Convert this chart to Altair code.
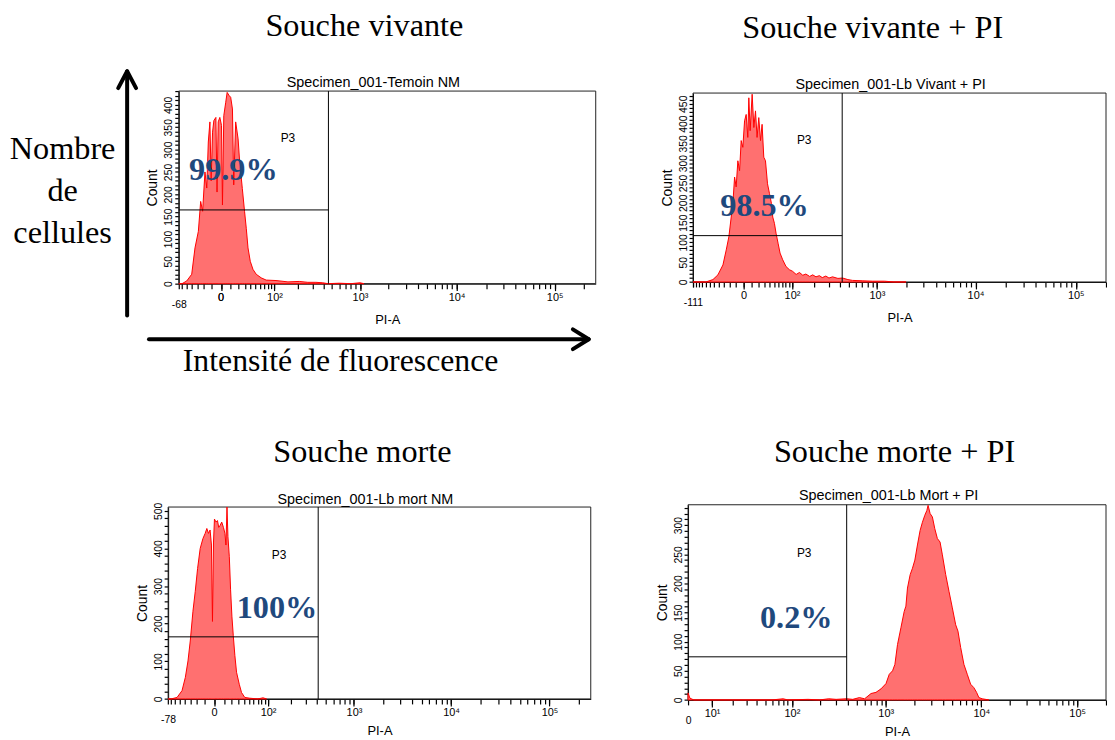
import altair as alt
import pandas as pd

# ---------------- values ----------------
# Panel 1 : Souche vivante  (Specimen_001-Temoin NM)
p1_pi = [-68, -60, -49.6, -39.7, -33.8, -28.2, -24.6, -21.7, -18.4, -16.0,
         -14.0, -12.0, -10.5, -8.9, -7.4, -5.2, -4.0, -2.8, -1.2, 0.4,
         1.3, 2.6, 4.6, 6.1, 8.3, 10.1, 12.2, 13.8, 16.3, 19.6,
         21.8, 25.8, 29.4, 32.2, 35.2, 39.3, 44.5, 51.2, 62.5, 75.1,
         105, 152, 210, 266, 330, 394, 450, 600, 800, 1000, 1100]
p1_count = [0, 0, 6, 21, 80, 117, 184, 162, 250, 214,
            317, 362, 230, 339, 365, 372, 205, 362, 372, 354,
            176, 376, 406, 428, 421, 417, 391, 221, 362, 324,
            273, 213, 161, 124, 80, 50, 32, 21, 13, 8,
            7, 4, 5, 3, 3, 2, 0, 1, 0, 2, 0]

# Panel 2 : Souche vivante + PI  (Specimen_001-Lb Vivant + PI)
p2_pi = [-111, -70, -52, -41, -31.1, -25.2, -20.8, -17.1, -14.6, -12.1,
         -9.9, -7.6, -5.4, -3.4, -1.4, 0.6, 2.5, 4.5, 5.8, 7.5,
         10.2, 12.6, 15.0, 17.4, 20.1, 22.9, 25.6, 28.6, 31.7, 35.6,
         39.6, 43.7, 46.5, 50.3, 54.1, 59.0, 64.1, 71.3, 80.8, 91.4,
         102, 115, 128, 142, 156, 175, 191, 210, 231, 250,
         276, 300, 330, 380, 428, 490, 550, 700, 900, 1200, 1500, 2000]
p2_count = [0, 0, 6, 18, 43, 81, 114, 164, 198, 265,
            240, 306, 281, 357, 340, 407, 423, 365, 465, 382,
            474, 390, 432, 365, 415, 357, 398, 315, 306, 248,
            223, 198, 164, 148, 123, 98, 73, 56, 39, 31,
            27, 19, 24, 17, 20, 14, 18, 13, 16, 11,
            15, 10, 13, 9, 10, 6, 4, 3, 2, 2, 0, 0]

# Panel 3 : Souche morte  (Specimen_001-Lb mort NM)
p3_pi = [-78, -70, -55.8, -45.3, -39.0, -34.2, -30.4, -26.1, -22.7, -19.3,
         -15.8, -12.4, -9.7, -7.8, -6.0, -4.3, -2.9, -1.9, -0.9, 0.0,
         1.5, 2.9, 4.2, 5.6, 7.4, 9.3, 11.1, 12.3, 13.6, 14.8,
         16.6, 18.3, 20.1, 22.1, 24.4, 27.0, 31.4, 35.3, 41.2, 51.2,
         70, 84.4, 95]
p3_count = [0, 0, 4, 22, 57, 101, 154, 233, 285, 347,
            400, 426, 440, 453, 440, 449, 409, 206, 417, 478,
            470, 474, 456, 461, 470, 456, 440, 409, 510, 431,
            378, 290, 220, 168, 116, 71, 39, 17, 4, 2,
            0, 3, 0]

# Panel 4 : Souche morte + PI  (Specimen_001-Lb Mort + PI)
p4_pi = [3.2, 3.6, 4.5, 20, 60, 80, 90, 150, 200, 250,
         300, 388, 450, 528, 600, 701, 790, 892, 1006, 1089,
         1179, 1248, 1329, 1443, 1562, 1627, 1690, 1803, 1906, 2019,
         2149, 2292, 2423, 2567, 2693, 2776, 2915, 3080, 3263, 3473,
         3704, 3915, 4244, 4597, 4976, 5394, 5701, 6081, 6577, 7128,
         7727, 8360, 8916, 9423, 10200, 11970]
p4_count = [12, 3, 0, 0, 0, 2, 0, 1, 0, 2,
            1, 2, 1, 4, 2, 11, 13, 19, 28, 44,
            50, 61, 95, 124, 152, 161, 192, 215, 226, 240,
            266, 291, 305, 317, 325, 334, 320, 314, 294, 277,
            271, 249, 215, 186, 158, 129, 118, 90, 61, 44,
            27, 21, 13, 4, 2, 0]

titles_top = ["Souche vivante", "Souche vivante + PI", "Souche morte", "Souche morte + PI"]
specimens = ["Specimen_001-Temoin NM", "Specimen_001-Lb Vivant + PI",
             "Specimen_001-Lb mort NM", "Specimen_001-Lb Mort + PI"]
percents = ["99.9%", "98.5%", "100%", "0.2%"]
gate_pi = [456, 424, 411, 388]
gate_count = [165, 117, 165, 74]
x_min = [-68, -111, -78, 3.2]
x_max = [262143, 200000, 262143, 200000]
y_max = [431, 477, 510, 335]
first_label = ["-68", "-111", "-78", "0"]
zero_tick = [0]
y_label_step = [50, 50, 100, 50]
y_tick_step = [10, 10, 20, 10]
gate_name = "P3"
left_words = ["Nombre", "de", "cellules"]
bottom_words = "Intensité de fluorescence"

# ---------------- layout / style ----------------
W, H = 1107, 724
SANS = "Liberation Sans"
SERIF = "Liberation Serif"
BLUE = "#1F497D"
RED = "#FF0000"
RED_FILL = "#FF7070"
BIG = 32.5
ONE = pd.DataFrame({"k": [0]})

layout = [
    dict(xr=[172, 592], yr=[272, 78], C=40, lin=True, ty=40,
         top=(359, 23), spec=(368, 74), p3=(282, 129), pct=(227, 168)),
    dict(xr=[690, 1106], yr=[270.3, 80], C=50, lin=True, ty=40,
         top=(871, 25), spec=(889, 76), p3=(802, 131), pct=(762, 204)),
    dict(xr=[161.3, 587], yr=[690.3, 497], C=40, lin=True, ty=36,
         top=(357, 452), spec=(360, 494), p3=(273, 549), pct=(271, 609)),
    dict(xr=[685, 1106], yr=[691.3, 494.7], C=5.5, lin=False, ty=36,
         top=(893, 452), spec=(887, 490), p3=(802, 547), pct=(794, 619)),
]


def x_ticks(xmin, xmax, lin):
    vals = [xmin]
    if lin:
        vals += [v for v in range(-200, 100, 10) if xmin < v < 100]
    else:
        vals += list(range(10, 100, 10))
    for dec in [100, 1000, 10000, 100000]:
        for m in range(1, 10):
            if m * dec <= xmax:
                vals.append(m * dec)
    return vals


def text_layer(text, pos, size, font, color="black", weight="normal", baseline="alphabetic"):
    return alt.Chart(ONE).mark_text(
        text=text, font=font, fontSize=size, color=color, fontWeight=weight,
        align="center", baseline=baseline
    ).encode(x=alt.value(pos[0]), y=alt.value(pos[1]))


def seg(x1, y1, x2, y2):
    return alt.Chart(ONE).mark_rule(color="black", strokeWidth=4, strokeCap="round").encode(
        x=alt.value(x1), y=alt.value(y1), x2=alt.value(x2), y2=alt.value(y2))


def make_panel(i, xs, counts):
    L = layout[i]
    xmin, xmax, ymax = x_min[i], x_max[i], y_max[i]
    hist = pd.DataFrame({"pi": xs, "count": counts})
    box = pd.DataFrame({"xmin": [xmin], "xmax": [xmax], "ymin": [0], "ymax": [ymax],
                        "gx": [gate_pi[i]], "gy": [gate_count[i]]})
    labels = [] if L["lin"] else [(10, "10¹")]
    labels += [(100, "10²"), (1000, "10³"), (10000, "10⁴"), (100000, "10⁵")]
    major_vals = ([0] if L["lin"] else []) + [v for v, _ in labels]
    expr = " : ".join(f"abs(datum.value - ({v})) < 0.01 ? '{t}'" for v, t in labels) + " : ''"
    first_expr = f"abs(datum.value - ({xmin})) < 0.01 ? '{first_label[i]}' : ''"
    off = -(H - L["yr"][0])

    xscale = alt.Scale(type="symlog", constant=L["C"], domain=[xmin, xmax],
                       range=L["xr"], nice=False)
    yscale = alt.Scale(domain=[0, ymax], range=L["yr"], nice=False)
    xaxis_minor = alt.Axis(
        orient="bottom", offset=off, values=x_ticks(xmin, xmax, L["lin"]),
        labelExpr=first_expr, labelOverlap=False, labelFlush=False, labelBound=False,
        labelPadding=11, labelFontSize=10.5,
        ticks=True, tickSize=5, tickWidth=1.2, tickColor="black",
        grid=False, title="PI-A", titleFontSize=13, titleY=L["ty"],
        titleBaseline="alphabetic")
    xaxis_major = alt.Axis(
        orient="bottom", offset=off, values=major_vals, labelExpr=expr,
        labelOverlap=False, labelFlush=False, labelBound=False, grid=False, domain=False,
        ticks=True, tickSize=7, tickWidth=1.2, tickColor="black",
        labelPadding=1, labelFontSize=11, title="")
    yaxis = alt.Axis(
        orient="left", offset=-L["xr"][0],
        values=list(range(0, ymax + 1, y_tick_step[i])),
        labelExpr=f"datum.value % {y_label_step[i]} == 0 ? datum.label : ''",
        labelAngle=270, labelAlign="center", labelBaseline="bottom", labelOverlap=False,
        labelFontSize=10.5, labelPadding=1, ticks=True, tickSize=4, tickWidth=1.2,
        tickColor="black", grid=False,
        title="Count", titleFontSize=14, titlePadding=4)

    def X(f, axis=None):
        return alt.X(f, type="quantitative", scale=xscale, axis=axis)

    def Y(f):
        return alt.Y(f, type="quantitative", scale=yscale, axis=yaxis)

    frame = alt.Chart(box).mark_rect(fillOpacity=0, stroke="#222222", strokeWidth=1).encode(
        x=X("xmin", xaxis_minor), x2="xmax", y=Y("ymin"), y2="ymax")
    majors = alt.Chart(box).mark_point(opacity=0).encode(
        x=X("xmin", xaxis_major), y=Y("ymin"))
    area = alt.Chart(hist).mark_area(fill=RED_FILL, stroke=RED, strokeWidth=1).encode(
        x=X("pi"), y=Y("count"), y2=alt.datum(0))
    vgate = alt.Chart(box).mark_rule(color="black", strokeWidth=1).encode(
        x=X("gx"), y=Y("ymin"), y2="ymax")
    hgate = alt.Chart(box).mark_rule(color="black", strokeWidth=1).encode(
        x=X("xmin"), x2="gx", y=Y("gy"))
    layers = [frame, majors, area, vgate, hgate]
    if L["lin"]:
        zero = alt.Chart(pd.DataFrame({"v": zero_tick})).mark_text(
            text="0", font=SANS, fontSize=11, color="black", align="center", baseline="top"
        ).encode(x=X("v"), y=alt.value(L["yr"][0] + 8))
        layers.append(zero)
    layers += [
        text_layer(gate_name, L["p3"], 12, SANS),
        text_layer(percents[i], L["pct"], BIG, SERIF, BLUE, "bold"),
        text_layer(specimens[i], L["spec"], 14.5, SANS),
        text_layer(titles_top[i], L["top"], BIG, SERIF),
    ]
    return alt.layer(*layers).resolve_axis(x="independent")


panels = [make_panel(0, p1_pi, p1_count), make_panel(1, p2_pi, p2_count),
          make_panel(2, p3_pi, p3_count), make_panel(3, p4_pi, p4_count)]

annotations = [
    # vertical arrow (Nombre de cellules)
    seg(120, 304, 120, 59), seg(120, 58, 111, 75), seg(120, 58, 129, 75),
    # horizontal arrow (Intensité de fluorescence)
    seg(142, 328, 584, 328), seg(585, 328, 569, 318), seg(585, 328, 569, 338),
    text_layer(left_words[0], (55, 146), BIG, SERIF),
    text_layer(left_words[1], (55, 189), BIG, SERIF),
    text_layer(left_words[2], (55, 231), BIG, SERIF),
    text_layer(bottom_words, (335, 360), 32, SERIF),
]

# "0" tick label of the first panel, drawn on top of everything
first_zero = text_layer("0", (214.7, 280), 11, SANS, baseline="top")

chart = alt.layer(*annotations, *panels, first_zero).resolve_scale(
    x="independent", y="independent"
).properties(
    width=W, height=H, padding=0
).configure_view(
    stroke="transparent"
).configure_axis(
    domainColor="black", labelColor="black", titleColor="black",
    labelFont=SANS, titleFont=SANS, titleFontWeight="normal", domainWidth=1
)

chart.save("out.html", embed_options={"renderer": "svg", "actions": False})
